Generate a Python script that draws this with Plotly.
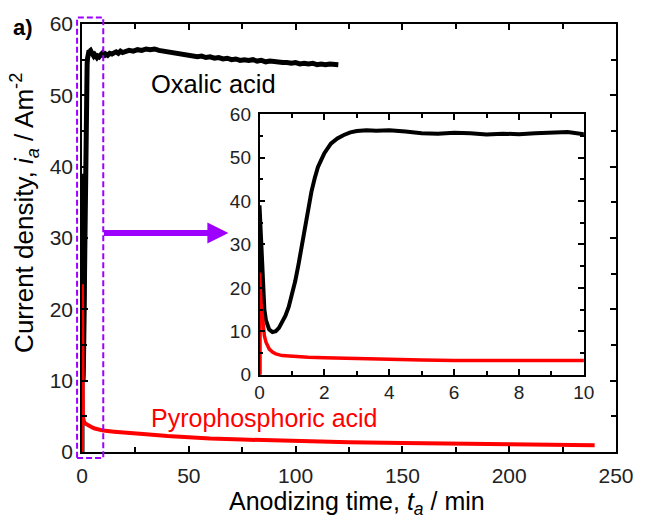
import plotly.graph_objects as go

# ---------------- data ----------------
t_oxalic = [0, 0, 0.05, 0.1, 0.15, 0.2, 0.3, 0.4, 0.5, 0.6, 0.7, 0.8, 0.9, 1.0, 1.1, 1.2,
            1.3, 1.4, 1.5, 1.6, 1.7, 1.8, 1.9, 2.0, 2.2, 2.4, 2.6, 2.8, 3.0, 3.3, 3.6, 4.0,
            4.5, 5.0, 5.5, 6.0, 6.5, 7.0, 7.5, 8.0, 8.5, 9.0, 9.5, 10.0,
            11, 12, 13, 14, 15, 16, 17, 18, 19, 20, 22, 24, 26, 28, 30, 32, 34, 36, 38, 40,
            42, 44, 46, 48, 50, 52, 54, 56, 58, 60, 62, 64, 66, 68, 70, 72, 74, 76, 78, 80,
            82, 84, 86, 88, 90, 92, 94, 96, 98, 100, 102, 104, 106, 108, 110, 112, 114, 116,
            118, 120]
i_oxalic = [0, 39.0, 31.0, 20.0, 15.0, 12.5, 10.4, 9.8, 10.0, 10.8, 12.0, 13.6, 15.6, 18.2,
            21.5, 25.3, 29.5, 34.3, 38.5, 42.1, 45.2, 47.8, 49.4, 51.0, 53.2, 54.4, 55.2, 55.8,
            56.1, 56.3, 56.2, 56.3, 56.0, 55.6, 55.5, 55.7, 55.6, 55.3, 55.5, 55.4, 55.6, 55.7,
            55.9, 55.4,
            55.8, 55.6, 55.9, 55.8, 56.0, 56.1, 55.9, 56.2, 56.0, 56.1,
            56.3, 56.2, 56.4, 56.3, 56.5, 56.4, 56.5, 56.3, 56.2, 56.2,
            56.0, 55.9, 55.9, 55.7, 55.6, 55.6, 55.4, 55.5, 55.3, 55.4,
            55.2, 55.3, 55.1, 55.2, 55.0, 55.1, 54.9, 55.0, 54.9, 55.0,
            54.8, 54.9, 54.7, 54.8, 54.7, 54.7, 54.6, 54.6, 54.5, 54.6,
            54.4, 54.5, 54.4, 54.5, 54.3, 54.4, 54.3, 54.4, 54.3, 54.3]

t_pyro = [0, 0, 0.05, 0.1, 0.15, 0.2, 0.3, 0.4, 0.5, 0.7, 1.0, 1.5, 2, 3, 4, 5, 6, 7, 8, 9,
          10, 15, 20, 30, 40, 50, 60, 75, 90, 100, 125, 150, 175, 200, 225, 240]
i_pyro = [0, 23.5, 16.3, 11.5, 9.0, 7.5, 5.9, 5.2, 4.8, 4.4, 4.2, 4.0, 3.9, 3.7, 3.5, 3.4,
          3.3, 3.2, 3.15, 3.1, 3.0, 2.85, 2.7, 2.5, 2.25, 2.05, 1.9, 1.75, 1.6, 1.5, 1.35,
          1.25, 1.15, 1.05, 1.0, 0.95]

main_xticks = [0, 50, 100, 150, 200, 250]
main_yticks = [0, 10, 20, 30, 40, 50, 60]
inset_xticks = [0, 2, 4, 6, 8, 10]
inset_yticks = [0, 10, 20, 30, 40, 50, 60]

# ---------------- styling ----------------
FONT = "Liberation Sans, Arial, Helvetica, sans-serif"
PURPLE = "#9d00ff"
W, H = 646, 527
L, R, T, B = 82, 24, 20, 75
PW, PH = W - L - R, H - T - B


def px(xp):
    return (xp - L) / PW


def py(yp):
    return (H - B - yp) / PH


fig = go.Figure()
fig.add_trace(go.Scatter(x=t_oxalic, y=i_oxalic, mode="lines",
                         line=dict(color="black", width=5), xaxis="x", yaxis="y",
                         showlegend=False))
fig.add_trace(go.Scatter(x=t_pyro, y=i_pyro, mode="lines",
                         line=dict(color="#ff0000", width=4), xaxis="x", yaxis="y",
                         showlegend=False))
fig.add_trace(go.Scatter(x=t_oxalic, y=i_oxalic, mode="lines",
                         line=dict(color="black", width=4), xaxis="x2", yaxis="y2",
                         showlegend=False))
fig.add_trace(go.Scatter(x=t_pyro, y=i_pyro, mode="lines",
                         line=dict(color="#ff0000", width=3.5), xaxis="x2", yaxis="y2",
                         showlegend=False))

axis_common = dict(showline=True, linecolor="black", linewidth=1.5, mirror="allticks",
                   ticks="inside", tickcolor="black", tickwidth=1.5, showgrid=False,
                   zeroline=False)

fig.update_layout(
    width=W, height=H,
    margin=dict(l=L, r=R, t=T, b=B),
    paper_bgcolor="white", plot_bgcolor="white",
    font=dict(family=FONT, color="#222"),
    xaxis=dict(domain=[0, 1], range=[0, 250], tickvals=main_xticks, ticklen=6,
               minor=dict(dtick=25, ticklen=5, ticks="inside", tickcolor="black", tickwidth=1.5),
               tickfont=dict(size=21, color="#222"), ticklabelstandoff=4, **axis_common),
    yaxis=dict(domain=[0, 1], range=[0, 60], tickvals=main_yticks, ticklen=6,
               minor=dict(dtick=5, ticklen=5, ticks="inside", tickcolor="black", tickwidth=1.5),
               tickfont=dict(size=21, color="#222"), ticklabelstandoff=3, **axis_common),
    xaxis2=dict(domain=[px(261.5), px(589.5)], anchor="y2", range=[0, 10],
                tickvals=inset_xticks, ticklen=6,
                minor=dict(dtick=1, ticklen=4, ticks="inside", tickcolor="black", tickwidth=1.5),
                tickfont=dict(size=19, color="#222"), ticklabelstandoff=0, **axis_common),
    yaxis2=dict(domain=[py(374), py(111)], anchor="x2", range=[0, 60],
                tickvals=inset_yticks, ticklen=6,
                minor=dict(dtick=5, ticklen=4, ticks="inside", tickcolor="black", tickwidth=1.5),
                tickfont=dict(size=19, color="#222"), ticklabelstandoff=3, **axis_common),
)

annotations = [
    dict(text="Oxalic acid", x=px(215), y=py(81), xref="paper", yref="paper",
         showarrow=False, font=dict(size=25.5, color="black"), xanchor="center", yanchor="middle"),
    dict(text="Pyrophosphoric acid", x=px(267), y=py(418), xref="paper", yref="paper",
         showarrow=False, font=dict(size=25, color="#ff0000"), xanchor="center", yanchor="middle"),
    dict(text="<b>a)</b>", x=px(22), y=py(24), xref="paper", yref="paper",
         showarrow=False, font=dict(size=22, color="black"), xanchor="center", yanchor="middle"),
    dict(text="Anodizing time, <i>t<sub>a</sub></i> / min", x=px(360), y=py(503),
         xref="paper", yref="paper", showarrow=False, font=dict(size=25, color="black"),
         xanchor="center", yanchor="middle"),
    dict(text="Current density, <i>i<sub>a</sub></i> / Am<sup>-2</sup>", x=px(24), y=py(211),
         xref="paper", yref="paper", showarrow=False, textangle=-90,
         font=dict(size=26, color="black"), xanchor="center", yanchor="middle"),
    dict(text="", x=px(230), y=py(231), xref="paper", yref="paper", showarrow=True,
         ax=-126, ay=0, arrowhead=2, arrowwidth=6, arrowsize=0.7, arrowcolor=PURPLE),
]
fig.update_layout(annotations=annotations)

fig.add_shape(type="rect", xref="paper", yref="paper",
              x0=px(77), x1=px(103.5), y0=py(458), y1=py(13.5),
              line=dict(color=PURPLE, width=2, dash="6px,3px"), layer="above")

fig.write_html("out.html")
